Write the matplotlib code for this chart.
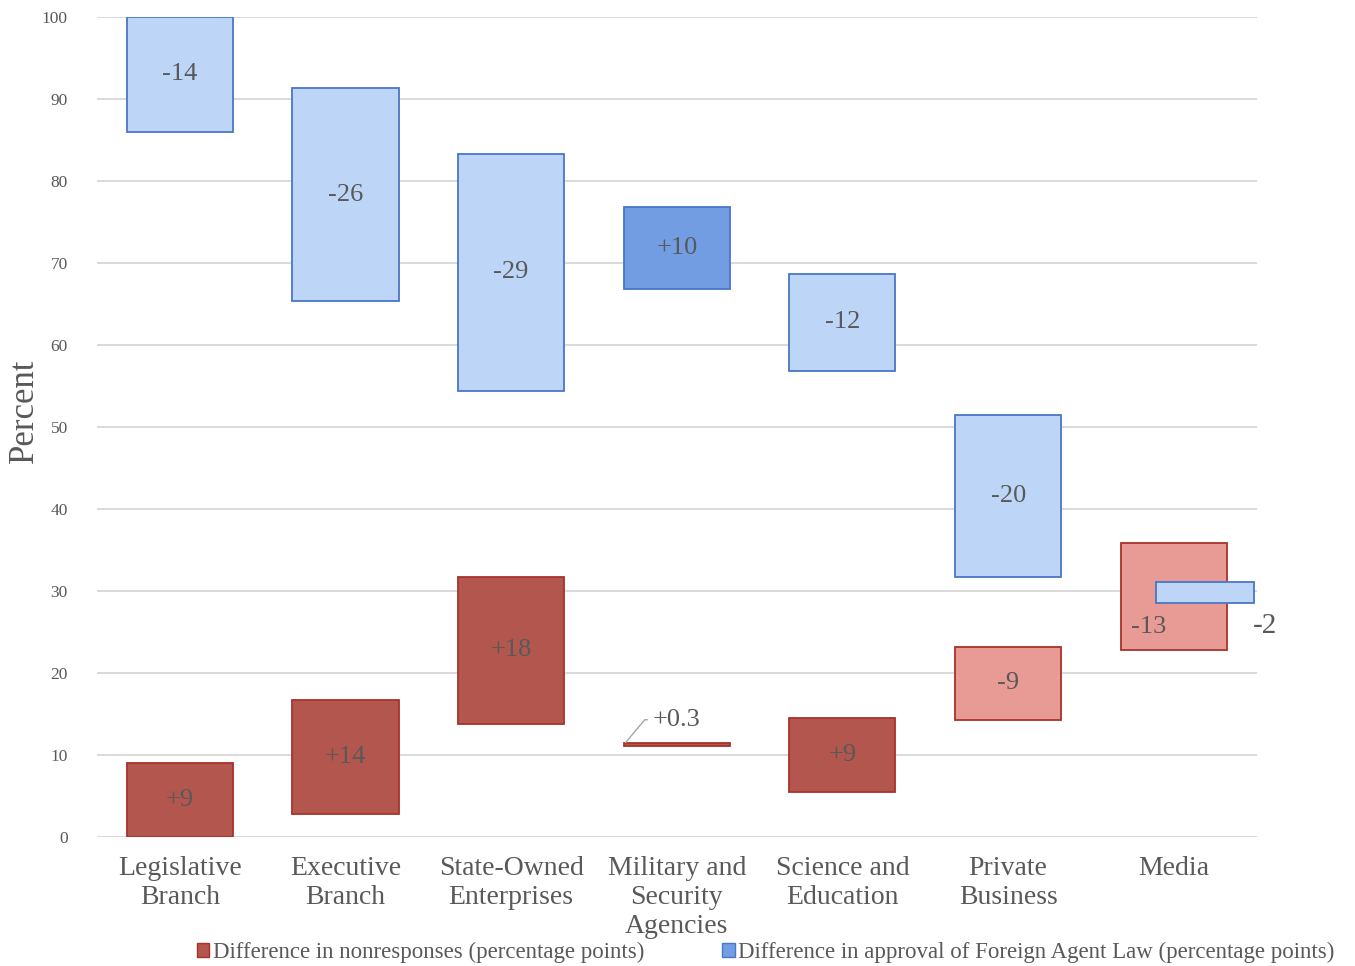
import numpy as np
import matplotlib.pyplot as plt
from matplotlib.patches import Patch

plt.rcParams['font.family'] = ['Liberation Serif', 'DejaVu Serif']

# Datos
categories = ['Legislative\nBranch', 'Executive\nBranch', 'State-Owned\nEnterprises',
              'Military and\nSecurity\nAgencies', 'Science and\nEducation',
              'Private\nBusiness', 'Media']

# barras azules (aprobación): base y tope
blue_low = [86.0, 65.4, 54.4, 66.8, 56.8, 31.7, 28.5]
blue_high = [100.0, 91.3, 83.3, 76.8, 68.7, 51.5, 31.1]
blue_labels = ['-14', '-26', '-29', '+10', '-12', '-20', '-2']

# barras rojas (no respuesta): base y tope
red_low = [0.0, 2.8, 13.8, 11.1, 5.5, 14.3, 22.8]
red_high = [9.0, 16.7, 31.7, 11.5, 14.5, 23.2, 35.9]
red_labels = ['+9', '+14', '+18', '+0.3', '+9', '-9', '-13']

# Colores
BLUE_LIGHT = '#BDD6F8'
BLUE_DARK = '#729DE2'
BLUE_EDGE = '#4A76C8'
RED_DARK = '#B3564D'
RED_LIGHT = '#E89A95'
RED_EDGE = '#A8322B'
TXT = '#595959'

blue_fill = [BLUE_LIGHT, BLUE_LIGHT, BLUE_LIGHT, BLUE_DARK, BLUE_LIGHT, BLUE_LIGHT, BLUE_LIGHT]
red_fill = [RED_DARK, RED_DARK, RED_DARK, RED_DARK, RED_DARK, RED_LIGHT, RED_LIGHT]

x = np.arange(len(categories))
w = 0.64
bx = x.astype(float).copy()
bw = np.full(len(x), w)
# Media: barra azul desplazada
bx[6] = 6.19
bw[6] = 0.59

fig = plt.figure(figsize=(13.55, 9.66), dpi=100)
ax = fig.add_axes([0.0716, 0.1335, 0.8558, 0.8489])

for i in x:
    ax.bar(bx[i], blue_high[i] - blue_low[i], bottom=blue_low[i], width=bw[i],
           color=blue_fill[i], edgecolor=BLUE_EDGE, linewidth=1.3, zorder=4)
    ax.bar(x[i], red_high[i] - red_low[i], bottom=red_low[i], width=w,
           color=red_fill[i], edgecolor=RED_EDGE, linewidth=1.3, zorder=3)

# Etiquetas
fs = 19
for i in x:
    if i == 6:
        continue
    ax.text(x[i], (blue_low[i] + blue_high[i]) / 2, blue_labels[i], ha='center',
            va='center', fontsize=fs, color=TXT, zorder=5)
    if i == 3:
        continue
    ax.text(x[i], (red_low[i] + red_high[i]) / 2, red_labels[i], ha='center',
            va='center', fontsize=fs, color=TXT, zorder=5)

# Military: etiqueta con línea guía
ax.annotate(red_labels[3], xy=(2.69, red_high[3]), xytext=(3.0, 14.3),
            ha='center', va='center', fontsize=fs, color=TXT,
            arrowprops=dict(arrowstyle='-', color='#A6A6A6', lw=1,
                            shrinkB=0, shrinkA=2, relpos=(0, 0.5),
                            connectionstyle='angle,angleA=0,angleB=50,rad=0'))
# Media
ax.text(5.85, 25.6, red_labels[6], ha='center', va='center', fontsize=fs, color=TXT, zorder=5)
ax.text(6.55, 25.7, blue_labels[6], ha='center', va='center', fontsize=21, color=TXT, zorder=5)

ax.set_xlim(-0.5, 6.5)
ax.set_ylim(0, 100)
ax.set_yticks(np.arange(0, 101, 10))
ax.set_xticks(x)
ax.set_xticklabels(categories, fontsize=20, color=TXT, linespacing=1.2)
ax.tick_params(axis='both', length=0)
ax.tick_params(axis='y', labelsize=12.5, labelcolor=TXT, pad=21)
ax.tick_params(axis='x', pad=14)
ax.grid(axis='y', color='#D9D9D9', linewidth=1.4, zorder=0)
for s in ax.spines.values():
    s.set_visible(False)
ax.set_ylabel('Percent', fontsize=25, color=TXT, labelpad=0)
ax.yaxis.set_label_coords(-0.048, 0.52)

handles = [Patch(facecolor=RED_DARK, edgecolor=RED_EDGE),
           Patch(facecolor=BLUE_DARK, edgecolor=BLUE_EDGE)]
fig.legend(handles, ['Difference in nonresponses (percentage points)',
                     'Difference in approval of Foreign Agent Law (percentage points)'],
           loc='lower center', bbox_to_anchor=(0.565, -0.018), ncol=2, frameon=False,
           fontsize=16.5, labelcolor=TXT, handlelength=0.55, handleheight=0.55,
           handletextpad=0.15, columnspacing=3.4)

plt.savefig('out.png', dpi=100)
plt.close()
